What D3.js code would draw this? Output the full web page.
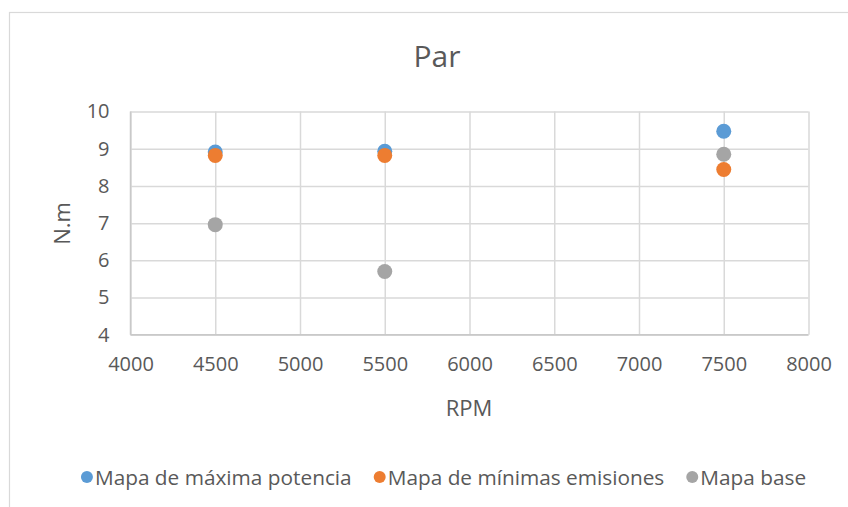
<!DOCTYPE html>
<html>
<head>
<meta charset="utf-8">
<script src="https://cdn.jsdelivr.net/npm/d3@7"></script>
<style>
  html, body { margin: 0; padding: 0; background: #fff; }
  svg { display: block; font-family: "Open Sans", "Noto Sans", sans-serif; }
</style>
</head>
<body>
<svg id="chart" width="848" height="507"></svg>
<script>
// Engine speed (RPM) at which the torque was measured
const rpm = [4500, 5500, 7500];

// Torque (N.m) for each engine map
const seriesNames = ["Mapa de máxima potencia", "Mapa de mínimas emisiones", "Mapa base"];
const maxPotencia = [8.91, 8.93, 9.47];
const minEmisiones = [8.82, 8.82, 8.44];
const mapaBase = [6.96, 5.70, 8.85];
const seriesColors = ["#5B9BD5", "#ED7D31", "#A5A5A5"];

// Axis ticks
const xTicks = [4000, 4500, 5000, 5500, 6000, 6500, 7000, 7500, 8000];
const yTicks = [4, 5, 6, 7, 8, 9, 10];

const titleText = "Par";
const xTitle = "RPM";
const yTitle = "N.m";

const svg = d3.select("#chart");
const textColor = "#595959";
const gridColor = "#D9D9D9";

// Outer chart frame
svg.append("rect")
  .attr("x", 9.5).attr("y", 12.5)
  .attr("width", 900).attr("height", 600)
  .attr("fill", "#fff")
  .attr("stroke", gridColor).attr("stroke-width", 1.2);

const plot = { left: 130.5, right: 808.5, top: 111.5, bottom: 334.8 };

const x = d3.scaleLinear().domain([4000, 8000]).range([plot.left, plot.right]);
const y = d3.scaleLinear().domain([4, 10]).range([plot.bottom, plot.top]);

// Gridlines
const g = svg.append("g");
g.append("g")
  .attr("transform", `translate(0,${plot.bottom})`)
  .call(d3.axisBottom(x).tickValues(xTicks).tickSize(-(plot.bottom - plot.top)).tickFormat(""))
  .call(s => s.select(".domain").remove())
  .call(s => s.selectAll("line").attr("stroke", gridColor).attr("stroke-width", 1.5));
g.append("g")
  .attr("transform", `translate(${plot.left},0)`)
  .call(d3.axisLeft(y).tickValues(yTicks).tickSize(-(plot.right - plot.left)).tickFormat(""))
  .call(s => s.select(".domain").remove())
  .call(s => s.selectAll("line").attr("stroke", gridColor).attr("stroke-width", 1.5));

// Axis lines
svg.append("line")
  .attr("x1", plot.left).attr("x2", plot.left).attr("y1", plot.top).attr("y2", plot.bottom)
  .attr("stroke", "#C9C9C9").attr("stroke-width", 1.5);
svg.append("line")
  .attr("x1", plot.left).attr("x2", plot.right).attr("y1", plot.bottom).attr("y2", plot.bottom)
  .attr("stroke", "#C9C9C9").attr("stroke-width", 1.5);

// Tick labels
const xAxis = svg.append("g")
  .attr("transform", `translate(0,${plot.bottom})`)
  .call(d3.axisBottom(x).tickValues(xTicks).tickSize(0).tickPadding(22).tickFormat(d3.format("d")));
xAxis.select(".domain").remove();
xAxis.selectAll("text")
  .attr("fill", textColor).attr("font-size", 20)
  .attr("font-family", "'Open Sans', 'Noto Sans', sans-serif");

const yAxis = svg.append("g")
  .attr("transform", `translate(${plot.left},0)`)
  .call(d3.axisLeft(y).tickValues(yTicks).tickSize(0).tickPadding(21).tickFormat(d3.format("d")));
yAxis.select(".domain").remove();
yAxis.selectAll("text")
  .attr("fill", textColor).attr("font-size", 20)
  .attr("font-family", "'Open Sans', 'Noto Sans', sans-serif");

// Titles
svg.append("text")
  .attr("x", 437).attr("y", 67)
  .attr("text-anchor", "middle")
  .attr("fill", textColor).attr("font-size", 30)
  .text(titleText);

svg.append("text")
  .attr("x", 469).attr("y", 416)
  .attr("text-anchor", "middle")
  .attr("fill", textColor).attr("font-size", 22)
  .text(xTitle);

svg.append("text")
  .attr("transform", `translate(70,223.5) rotate(-90)`)
  .attr("text-anchor", "middle")
  .attr("fill", textColor).attr("font-size", 22)
  .text(yTitle);

// Data points
const allSeries = [maxPotencia, minEmisiones, mapaBase];
allSeries.forEach((vals, i) => {
  svg.append("g").selectAll("circle")
    .data(rpm.map((r, j) => ({ r, v: vals[j] })))
    .join("circle")
    .attr("cx", d => x(d.r))
    .attr("cy", d => y(d.v))
    .attr("r", 7.5)
    .attr("fill", seriesColors[i]);
});

// Legend
const legend = svg.append("g");
let cursor = 0;
seriesNames.forEach((name, i) => {
  const item = legend.append("g");
  item.append("circle").attr("cx", cursor + 6).attr("cy", 477).attr("r", 6).attr("fill", seriesColors[i]);
  const t = item.append("text")
    .attr("x", cursor + 14).attr("y", 484.5)
    .attr("fill", textColor).attr("font-size", 20.8)
    .text(name);
  cursor += 14 + t.node().getComputedTextLength() + 22;
});
const total = cursor - 22;
legend.attr("transform", `translate(${443.5 - total / 2},0)`);
</script>
</body>
</html>
